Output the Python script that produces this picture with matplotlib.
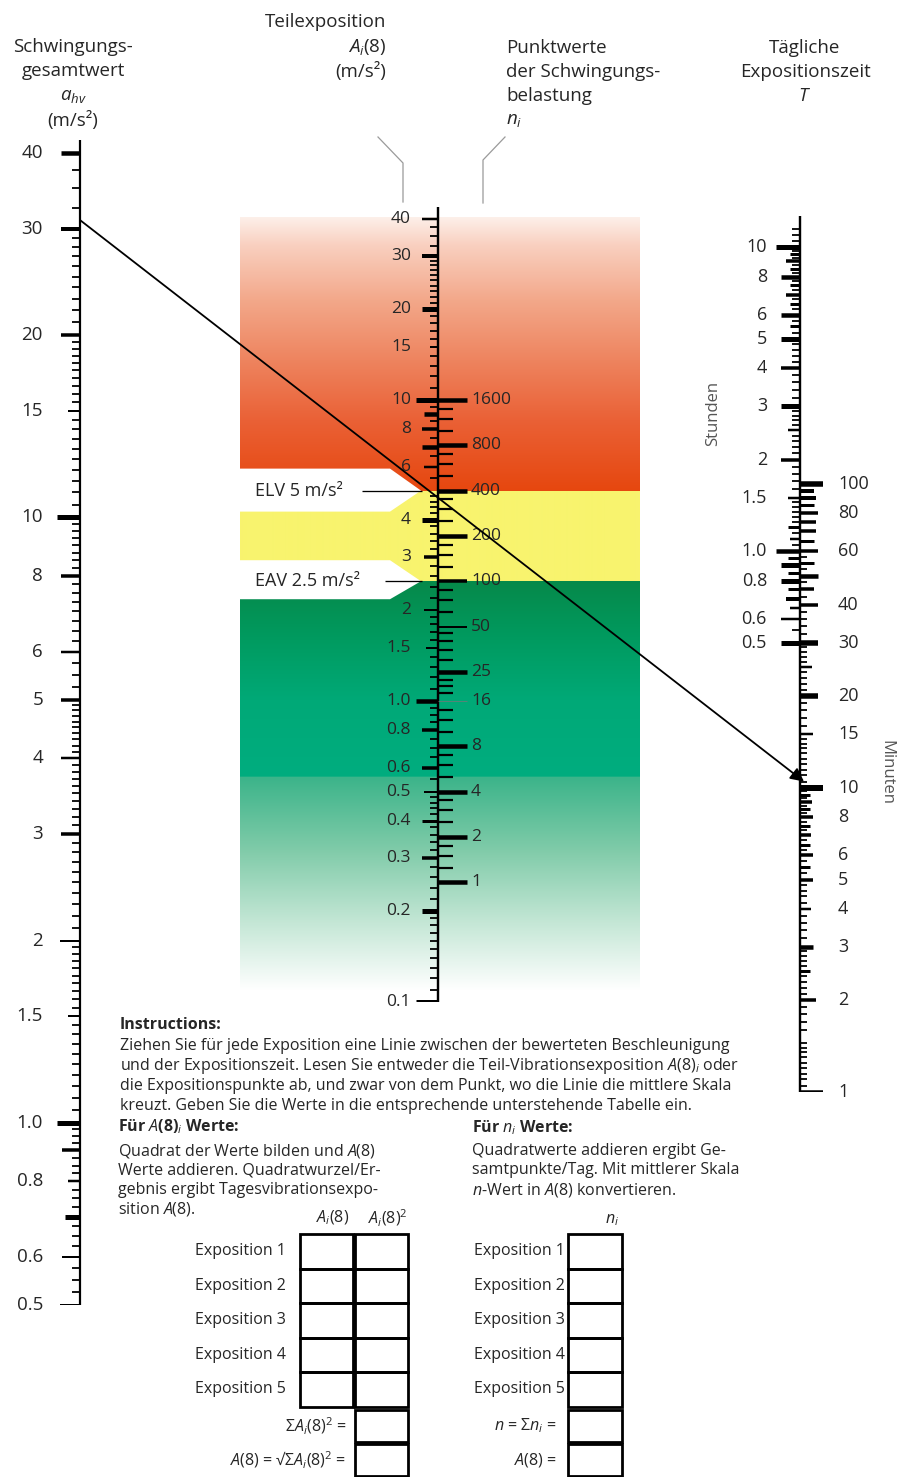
import numpy as np
import matplotlib
matplotlib.use("Agg")
import matplotlib.pyplot as plt
from matplotlib.patches import Polygon, Rectangle, ConnectionPatch

# ---------------- data ----------------
ahv_labels = [40, 30, 20, 15, 10, 8, 6, 5, 4, 3, 2, 1.5, 1.0, 0.8, 0.6, 0.5]
A8_labels = [40, 30, 20, 15, 10, 8, 6, 4, 3, 2, 1.5, 1.0, 0.8, 0.6, 0.5, 0.4, 0.3, 0.2, 0.1]
n_labels = [1600, 800, 400, 200, 100, 50, 25, 16, 8, 4, 2, 1]
n_minor = [1400, 1200, 1000, 700, 600, 500, 350, 300, 250, 175, 150, 125,
           87.5, 75, 62.5, 45, 40, 35, 30, 22, 20, 18, 14, 12, 10,
           7, 6, 5, 3.5, 3, 2.5, 1.75, 1.5, 1.25]
hours_labels = [10, 8, 6, 5, 4, 3, 2, 1.5, 1.0, 0.8, 0.6, 0.5]
minutes_labels = [100, 80, 60, 40, 30, 20, 15, 10, 8, 6, 5, 4, 3, 2, 1]
ELV = 5.0
EAV = 2.5
example_ahv = 31
example_minutes = 10.5
points_factor = 16      # n = 16 * A(8)^2
minutes_per_hour = 60

# minor tick graduations (start, stop, step)
ahv_steps = [(0.5, 1.0, 0.025), (1.0, 2.0, 0.05), (2, 5, 0.1), (5, 10, 0.25),
             (10, 20, 0.5), (20, 30, 1), (30, 40, 2.5)]
A8_steps = [(0.1, 0.2, 0.01), (0.2, 0.5, 0.02), (0.5, 1, 0.05), (1, 2, 0.1),
            (2, 5, 0.2), (5, 10, 0.5), (10, 30, 1), (30, 40, 2.5)]
hours_steps = [(0.5, 1.5, 0.05), (1.5, 2, 0.1), (2, 3, 0.1), (3, 5, 0.2),
               (5, 10, 0.25), (10, 12, 0.5)]
minutes_steps = [(1, 1.5, 0.05), (1.5, 2, 0.1), (2, 3, 0.1), (3, 5, 0.2),
                 (5, 10, 0.25), (10, 15, 0.5), (15, 30, 1), (30, 40, 2),
                 (40, 60, 2.5), (60, 100, 5)]

# ---------------- style ----------------
plt.rcParams['font.family'] = ['Open Sans', 'DejaVu Sans']
plt.rcParams['mathtext.fontset'] = 'custom'
plt.rcParams['mathtext.rm'] = 'Open Sans'
plt.rcParams['mathtext.it'] = 'Open Sans:italic'
plt.rcParams['mathtext.bf'] = 'Open Sans:bold'
TXT = '#262626'
PX = 0.72  # points per pixel at dpi 100

W, H = 897, 1477
fig = plt.figure(figsize=(W / 100, H / 100), dpi=100)
base = fig.add_axes([0, 0, 1, 1])
base.set_xlim(0, W)
base.set_ylim(H, 0)
base.axis('off')


def scale_axes(y_top, y_bot, lims):
    ax = fig.add_axes([0, 1 - y_bot / H, 1, (y_bot - y_top) / H])
    ax.set_xlim(0, W)
    ax.set_yscale('log')
    ax.set_ylim(*lims)
    ax.axis('off')
    ax.patch.set_alpha(0)
    return ax


def lims_from(v_bot, y_top, y_bot, decade):
    return (v_bot, v_bot * 10 ** ((y_bot - y_top) / decade))


def fmt(v):
    return f"{v:.1f}" if isinstance(v, float) else str(v)


def minor_values(steps, exclude):
    vals = []
    ex = {round(float(e), 4) for e in exclude}
    for a, b, s in steps:
        for v in np.arange(a + s, b - s / 2, s):
            r = round(float(v), 4)
            if r not in ex:
                vals.append(r)
    return vals


def draw_ticks(ax, x0, values, spec, default, side, color='black'):
    for v in values:
        length, width = spec.get(v, default)
        if side == 'left':
            ax.hlines(v, x0 - length, x0, lw=width * PX, color=color,
                      capstyle='butt')
        else:
            ax.hlines(v, x0, x0 + length, lw=width * PX, color=color,
                      capstyle='butt')


# ---------------- scale axes ----------------
ax_left = scale_axes(140, 1305, lims_from(0.5, 140, 1305, 605.3))
ax_mid = scale_axes(207, 1002, lims_from(0.1, 207, 1002, 301))
ax_n = scale_axes(207, 1002, tuple(points_factor * np.array(ax_mid.get_ylim()) ** 2))
ax_hr = scale_axes(216, 1092, lims_from(1 / 60, 216, 1092, 304))
ax_min = scale_axes(216, 1092, tuple(minutes_per_hour * np.array(ax_hr.get_ylim())))

# ---------------- background bands ----------------
def ypx(ax, v):
    return H - ax.transData.transform((0, v))[1]

y_elv = ypx(ax_mid, ELV)
y_eav = ypx(ax_mid, EAV)
g_top, g_bot, g_l, g_r = 217, 990, 240, 640

def hexrgb(h):
    h = h.lstrip('#')
    return [int(h[i:i + 2], 16) / 255 for i in (0, 2, 4)]

def band(ys, stops):
    xs = [s[0] for s in stops]
    cols = np.array([hexrgb(s[1]) for s in stops])
    return np.stack([np.interp(ys, xs, cols[:, k]) for k in range(3)], axis=1)

ys = np.arange(g_top, g_bot) + 0.5
img = np.ones((len(ys), 3))
red_stops = [(g_top, '#fdf0ea'), (245, '#f9d0c0'), (300, '#f3a88a'),
             (360, '#ee845f'), (420, '#ea6136'), (y_elv, '#e6470f')]
green_stops = [(y_eav, '#06894a'), (640, '#009b60'), (700, '#00a977'),
               (776, '#00ad7f'), (777.5, '#3cb48a'), (850, '#80cba9'),
               (920, '#c2e6d4'), (g_bot, '#ffffff')]
m_red = ys < y_elv
m_yel = (ys >= y_elv) & (ys < y_eav)
m_grn = ys >= y_eav
img[m_red] = band(ys[m_red], red_stops)
img[m_yel] = hexrgb('#f8f36e')
img[m_grn] = band(ys[m_grn], green_stops)
base.imshow(img[:, None, :], extent=(g_l, g_r, g_bot, g_top), aspect='auto',
            interpolation='bilinear', zorder=0)

# white notches for ELV / EAV labels
for yc, up, dn in [(y_elv, 22, 21), (y_eav, 21, 18)]:
    base.add_patch(Polygon([(g_l - 1, yc - up), (390, yc - up), (421, yc),
                            (390, yc + dn), (g_l - 1, yc + dn)],
                           closed=True, facecolor='white', edgecolor='none',
                           zorder=1))

# ---------------- left scale: a_hv ----------------
xL = 80
ax_left.axvline(xL, ymin=0, ymax=1, color='black', lw=2.2 * PX)
left_spec = {40: (19, 4.5), 30: (19, 4), 20: (19, 3.5), 15: (12, 2), 10: (23, 5),
             8: (19, 3.5), 6: (19, 2.5), 5: (19, 3.5), 4: (19, 2.5), 3: (19, 3.5),
             2: (20, 2), 1.5: (12, 2), 1.0: (23, 5), 0.9: (18, 3.5),
             0.8: (12, 2.5), 0.7: (15, 5), 0.6: (18, 2), 0.5: (20, 2)}
draw_ticks(ax_left, xL, ahv_labels, left_spec, (19, 2.5), 'left')
draw_ticks(ax_left, xL, minor_values(ahv_steps, ahv_labels), left_spec, (8, 1.8), 'left')
for v in ahv_labels:
    ax_left.text(43, v, fmt(v), ha='right', va='center', fontsize=13.5, color=TXT)

# ---------------- middle scale: A(8) and n ----------------
xM = 438
ax_mid.axvline(xM, color='black', lw=2.4 * PX)
mid_spec = {40: (16, 2.5), 30: (16, 4), 20: (16, 5), 15: (8, 2), 10: (22, 5),
            9: (14, 4.5), 8: (16, 3.5), 7: (16, 4.5), 6: (14, 2.5), 4: (16, 5), 3: (14, 3.5),
            2: (14, 2), 1.5: (12, 2), 1.0: (22, 4.5), 0.8: (16, 3.5), 0.6: (16, 3.5),
            0.5: (14, 2), 0.4: (16, 3), 0.3: (16, 3.5), 0.2: (16, 5), 0.1: (22, 5)}
draw_ticks(ax_mid, xM, A8_labels, mid_spec, (14, 2.5), 'left')
draw_ticks(ax_mid, xM, minor_values(A8_steps, A8_labels), mid_spec, (8, 1.8), 'left')
for v in A8_labels:
    ax_mid.text(411, v, fmt(v), ha='right', va='center', fontsize=12.5, color=TXT)

n_spec = {50: (29, 2), 100: (29, 3.5)}
draw_ticks(ax_n, xM, [v for v in n_labels if v != 16], n_spec, (29, 4.5), 'right')
draw_ticks(ax_n, xM, [16], {}, (29, 0.7), 'right', color='#777777')
draw_ticks(ax_n, xM, n_minor, {}, (15, 2.2), 'right')
for v in n_labels:
    ax_n.text(471, v, fmt(v), ha='left', va='center', fontsize=12.5, color=TXT)

# limit lines and labels
ax_mid.hlines(ELV, 362, 422, color='black', lw=1.3 * PX)
ax_mid.hlines(EAV, 385, 422, color='black', lw=1.3 * PX)
ax_mid.text(255, ELV, "ELV 5 m/s²", ha='left', va='center', fontsize=13, color=TXT)
ax_mid.text(255, EAV, "EAV 2.5 m/s²", ha='left', va='center', fontsize=13, color=TXT)

# ---------------- right scale: T ----------------
xR = 800
ax_hr.axvline(xR, color='black', lw=2.4 * PX)
hr_spec = {10: (24, 5), 8: (19, 4.5), 6: (19, 4.5), 5: (19, 5), 4: (19, 3.5), 3: (19, 5),
           2: (19, 3.5), 1.5: (12, 2.5), 1.0: (24, 4.5), 0.9: (19, 5), 0.8: (19, 5),
           0.7: (14, 4), 0.6: (19, 2.5), 0.5: (19, 5), 9: (14, 3.5), 7: (14, 3.5),
           9.5: (10, 3), 8.5: (10, 3), 7.5: (10, 3), 6.5: (10, 3), 5.5: (10, 3),
           2.5: (12, 2.5), 1.2: (12, 3), 1.1: (10, 2.5), 0.95: (12, 3), 0.85: (12, 3),
           0.75: (12, 3), 0.65: (10, 2.5)}
draw_ticks(ax_hr, xR, hours_labels, hr_spec, (19, 4.5), 'left')
draw_ticks(ax_hr, xR, minor_values(hours_steps, hours_labels), hr_spec, (8, 1.8), 'left')
for v in hours_labels:
    ax_hr.text(767, v, fmt(v), ha='right', va='center', fontsize=13, color=TXT)

min_spec = {100: (23, 5.5), 80: (18, 3.5), 60: (18, 3.5), 40: (18, 3.5), 30: (18, 5.5),
            20: (18, 5.5), 15: (13, 2.5), 10: (23, 6), 8: (13, 3.5), 6: (13, 3.5),
            5: (13, 3.5), 4: (11, 2.5), 3: (13, 4.5), 2: (16, 3.5), 1: (23, 3.5),
            95: (14, 4), 90: (16, 4), 85: (14, 3), 75: (16, 3.5), 70: (16, 3.5),
            65: (14, 3), 55: (14, 3), 50: (18, 4.5), 45: (14, 3.5), 35: (14, 3.5),
            25: (12, 2.5), 9: (12, 3.5), 7: (11, 3.5), 9.5: (10, 3), 8.5: (10, 3),
            7.5: (10, 3), 6.5: (10, 3), 5.5: (10, 3), 2.5: (10, 3)}
draw_ticks(ax_min, xR, minutes_labels, min_spec, (18, 3.5), 'right')
draw_ticks(ax_min, xR, minor_values(minutes_steps, minutes_labels), min_spec, (7, 1.8), 'right')
for v in minutes_labels:
    ax_min.text(838, v, fmt(v), ha='left', va='center', fontsize=13, color=TXT)

base.text(713, 413, "Stunden", rotation=90, ha='center', va='center',
          fontsize=12, color='#555555')
base.text(886, 773, "Minuten", rotation=270, ha='center', va='center',
          fontsize=12, color='#555555')

# ---------------- example line ----------------
con = ConnectionPatch(xyA=(xL, example_ahv), coordsA=ax_left.transData,
                      xyB=(xR + 4, example_minutes), coordsB=ax_min.transData,
                      arrowstyle='-|>', mutation_scale=20, lw=1.3,
                      color='black', shrinkA=0, shrinkB=0, zorder=5)
fig.add_artist(con)

# ---------------- headers ----------------
hdr = dict(fontsize=13.5, color=TXT)
for i, s in enumerate(["Schwingungs-", "gesamtwert", r"$a_{hv}$", "(m/s²)"]):
    base.text(73, 47 + 24.5 * i, s, ha='center', va='center', **hdr)
for i, s in enumerate(["Teilexposition", r"$A_i$(8)", "(m/s²)"]):
    base.text(386, 22 + 25 * i, s, ha='right', va='center', **hdr)
for i, s in enumerate(["Punktwerte", "der Schwingungs-", "belastung", r"$n_i$"]):
    base.text(506, 48 + 24 * i, s, ha='left', va='center', **hdr)
for i, s in enumerate(["Tägliche", "Expositionszeit", r"$T$"]):
    base.text(805, 48 + 24 * i, s, ha='center', va='center', **hdr)
base.plot([378, 403, 403], [137, 163, 202], color='#9a9a9a', lw=0.9)
base.plot([505, 483, 483], [137, 160, 203], color='#9a9a9a', lw=0.9)

# ---------------- instructions ----------------
FS = 11.5
it = dict(fontsize=FS, color=TXT, ha='left', va='center')
base.text(120, 1025, "Instructions:", fontweight='bold', **it)
instr = ["Ziehen Sie für jede Exposition eine Linie zwischen der bewerteten Beschleunigung",
         r"und der Expositionszeit. Lesen Sie entweder die Teil-Vibrationsexposition $A$(8)$_i$ oder",
         "die Expositionspunkte ab, und zwar von dem Punkt, wo die Linie die mittlere Skala",
         "kreuzt. Geben Sie die Werte in die entsprechende unterstehende Tabelle ein."]
for i, s in enumerate(instr):
    base.text(120, 1046 + 20 * i, s, **it)
base.text(118, 1127, r"Für $A$(8)$_i$ Werte:", fontweight='bold', **it)
base.text(472, 1128, r"Für $n_i$ Werte:", fontweight='bold', **it)
for i, s in enumerate(["Quadrat der Werte bilden und $A$(8)",
                       "Werte addieren. Quadratwurzel/Er-",
                       "gebnis ergibt Tagesvibrationsexpo-",
                       "sition $A$(8)."]):
    base.text(118, 1151 + 19.5 * i, s, **it)
for i, s in enumerate(["Quadratwerte addieren ergibt Ge-",
                       "samtpunkte/Tag. Mit mittlerer Skala",
                       "$n$-Wert in $A$(8) konvertieren."]):
    base.text(472, 1151 + 19.5 * i, s, **it)

# ---------------- tables ----------------
tb = dict(fill=False, edgecolor='black', lw=2.0)
row_top, row_h = 1234, 34.5
base.text(333, 1218, r"$A_i$(8)", ha='center', va='center', fontsize=FS, color=TXT)
base.text(388, 1218, r"$A_i$(8)$^2$", ha='center', va='center', fontsize=FS, color=TXT)
base.text(612, 1220, r"$n_i$", ha='center', va='center', fontsize=FS, color=TXT)
for i in range(5):
    y0 = row_top + i * row_h
    base.add_patch(Rectangle((300, y0), 53, row_h, **tb))
    base.add_patch(Rectangle((355, y0), 53, row_h, **tb))
    base.add_patch(Rectangle((568, y0), 54, row_h, **tb))
    base.text(286, y0 + row_h / 2, f"Exposition {i + 1}", ha='right', va='center',
              fontsize=FS, color=TXT)
    base.text(565, y0 + row_h / 2, f"Exposition {i + 1}", ha='right', va='center',
              fontsize=FS, color=TXT)
y_sum = row_top + 5 * row_h + 3.5
for x0, w in [(355, 53), (568, 54)]:
    base.add_patch(Rectangle((x0, y_sum), w, 32, **tb))
    base.add_patch(Rectangle((x0, y_sum + 34), w, 32, **tb))
base.text(346, y_sum + 16, r"Σ$A_i$(8)$^2$ =", ha='right', va='center', fontsize=FS, color=TXT)
base.text(346, y_sum + 50, r"$A$(8) = √Σ$A_i$(8)$^2$ =", ha='right', va='center',
          fontsize=FS, color=TXT)
base.text(557, y_sum + 16, r"$n$ = Σ$n_i$ =", ha='right', va='center', fontsize=FS, color=TXT)
base.text(557, y_sum + 50, r"$A$(8) =", ha='right', va='center', fontsize=FS, color=TXT)

fig.savefig("out.png", dpi=100)
